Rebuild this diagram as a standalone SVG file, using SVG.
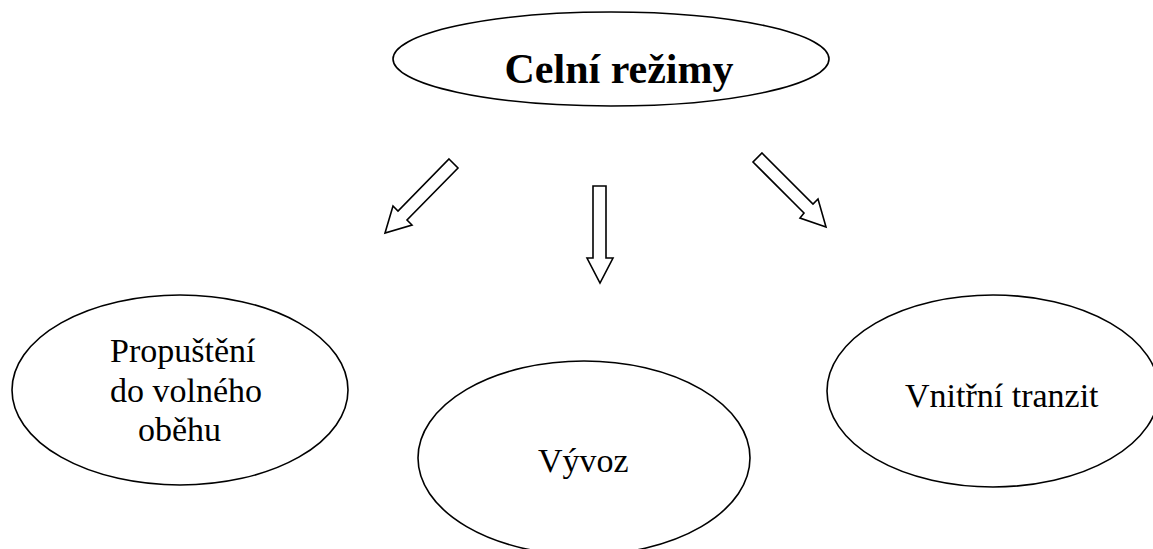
<svg xmlns="http://www.w3.org/2000/svg" width="1153" height="549" viewBox="0 0 1153 549">
<style>
.node ellipse{fill:#fff;stroke:#000;stroke-width:1.6}
.lbl{font-family:"Liberation Serif","Times New Roman",serif;font-size:34px;fill:#000}
.title{font-family:"Liberation Serif","Times New Roman",serif;font-size:42px;font-weight:bold;fill:#000}
.arrow{fill:#fff;stroke:#000;stroke-width:1.6;stroke-linejoin:miter}
</style>
<rect width="1153" height="549" fill="#fff"/>
<g id="celni-rezimy" class="node">
<ellipse cx="611" cy="59" rx="218" ry="47"/>
<text class="title" x="619" y="83" text-anchor="middle">Celní režimy</text>
</g>
<g id="connectors">
<polygon class="arrow" points="449,159 458,168 407,220 412,225 385,233 393,206 398,211"/>
<polygon class="arrow" points="593,186 606,186 606,258 613,258 600,283 587,258 593,258"/>
<polygon class="arrow" points="762,153 813,204 818,199 826,227 800,218 804,213 753,162"/>
</g>
<g id="propusteni" class="node">
<ellipse cx="180" cy="390" rx="168" ry="95"/>
<text class="lbl" x="110" y="362">Propuštění</text>
<text class="lbl" x="110" y="402">do volného</text>
<text class="lbl" x="138" y="441">oběhu</text>
</g>
<g id="vyvoz" class="node">
<ellipse cx="584" cy="458" rx="166" ry="97"/>
<text class="lbl" x="538" y="472">Vývoz</text>
</g>
<g id="vnitrni-tranzit" class="node">
<ellipse cx="993" cy="391" rx="166" ry="96"/>
<text class="lbl" x="905" y="407">Vnitřní tranzit</text>
</g>
</svg>
